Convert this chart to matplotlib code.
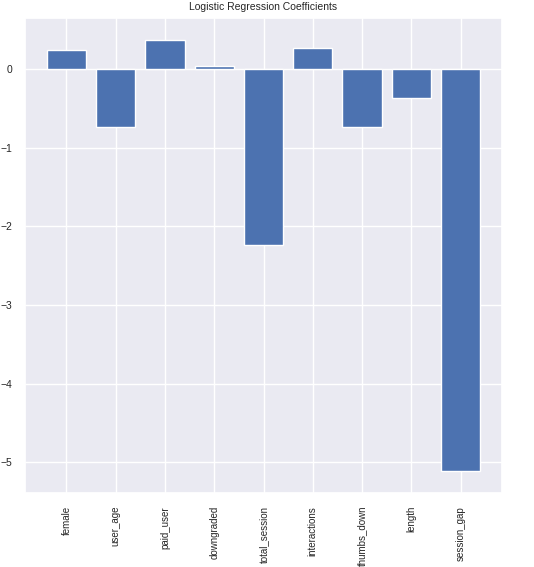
import matplotlib
matplotlib.use("Agg")
import matplotlib.pyplot as plt
import seaborn as sns

features = ['female', 'user_age', 'paid_user', 'downgraded', 'total_session',
            'interactions', 'thumbs_down', 'length', 'session_gap']
coefs = [0.245, -0.74, 0.37, 0.04, -2.24, 0.27, -0.74, -0.365, -5.11]

sns.set_theme(style='darkgrid')
plt.rcParams['font.family'] = ['Liberation Sans', 'DejaVu Sans']

fig = plt.figure(figsize=(5.34, 5.67), dpi=100)
ax = fig.add_axes([0.047, 0.131, 0.893, 0.837])
ax.bar(range(len(features)), coefs, color='#4c72b0')
ax.set_xticks(range(len(features)))
ax.set_xticklabels(features, rotation=90, fontsize=7)
ax.tick_params(axis='y', labelsize=7.5)
ax.set_title('Logistic Regression Coefficients', fontsize=7.5)

fig.savefig('out.png', dpi=100)
